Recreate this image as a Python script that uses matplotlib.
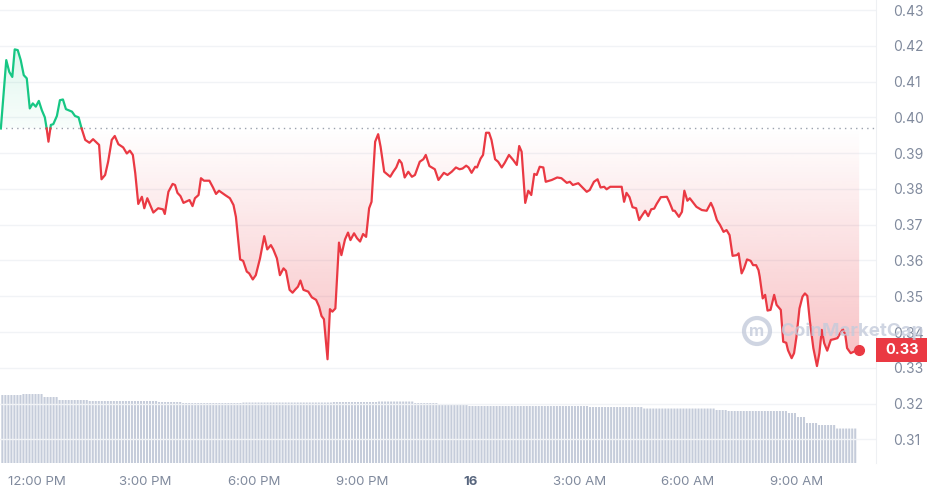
import matplotlib as mpl
import matplotlib.pyplot as plt
from matplotlib.patches import Circle, Rectangle
from matplotlib.path import Path
import numpy as np

mpl.rcParams['font.family'] = ['Inter', 'DejaVu Sans']

# minutes after 11:00 AM (15th) and price in USD
minutes = [0, 9, 14, 19, 23, 28, 33, 38, 43, 48, 53, 58, 63, 68, 73, 76, 79, 83, 87, 93,
           98, 103, 108, 118, 123, 129, 134, 140, 147, 153, 163, 167, 173, 178, 184, 189, 195, 203, 209, 214,
           219, 223, 228, 234, 238, 243, 253, 261, 269, 272, 278, 285, 289, 293, 298, 303, 313, 318, 322, 328,
           332, 337, 346, 352, 357, 362, 372, 380, 386, 390, 397, 402, 408, 412, 418, 423, 430, 437, 442, 448,
           452, 458, 463, 469, 473, 479, 484, 488, 493, 497, 502, 510, 516, 523, 528, 532, 536, 542, 546, 550,
           555, 561, 565, 571, 576, 580, 586, 591, 596, 601, 606, 611, 615, 621, 626, 630, 636, 646, 651, 656,
           661, 665, 670, 676, 682, 687, 695, 701, 705, 711, 720, 726, 735, 741, 748, 755, 761, 766, 772, 776,
           781, 787, 790, 796, 800, 805, 810, 814, 820, 825, 831, 836, 843, 850, 856, 860, 864, 870, 875, 880,
           885, 889, 894, 900, 904, 914, 923, 930, 939, 944, 949, 958, 965, 972, 977, 984, 990, 995, 1001, 1005,
           1011, 1019, 1030, 1034, 1038, 1043, 1048, 1054, 1059, 1063, 1069, 1074, 1079, 1084, 1088, 1095, 1105, 1109, 1115, 1118,
           1125, 1130, 1134, 1139, 1143, 1149, 1154, 1163, 1171, 1178, 1182, 1188, 1193, 1199, 1204, 1209, 1214, 1221, 1224, 1229,
           1233, 1238, 1244, 1248, 1253, 1257, 1259, 1264, 1268, 1272, 1277, 1283, 1287, 1294, 1298, 1303, 1306, 1312, 1316, 1320,
           1325, 1330, 1334, 1338, 1342, 1348, 1354, 1358, 1362, 1366, 1371, 1377, 1382, 1388, 1392, 1397, 1401, 1404, 1410, 1415,
           1420, 1424]
price = [0.3969, 0.4160, 0.4127, 0.4113, 0.4190, 0.4188, 0.4160, 0.4118, 0.4109, 0.4025, 0.4039, 0.4030, 0.4046, 0.4020, 0.4000, 0.3969, 0.3932, 0.3979, 0.3981, 0.4004,
         0.4048, 0.4050, 0.4023, 0.4016, 0.4004, 0.4000, 0.3969, 0.3937, 0.3929, 0.3939, 0.3923, 0.3827, 0.3839, 0.3876, 0.3937, 0.3948, 0.3925, 0.3916, 0.3899, 0.3907,
         0.3895, 0.3844, 0.3758, 0.3778, 0.3746, 0.3774, 0.3734, 0.3746, 0.3743, 0.3730, 0.3792, 0.3814, 0.3811, 0.3789, 0.3780, 0.3761, 0.3769, 0.3752, 0.3774, 0.3783,
         0.3830, 0.3823, 0.3823, 0.3804, 0.3786, 0.3795, 0.3783, 0.3774, 0.3755, 0.3722, 0.3603, 0.3599, 0.3569, 0.3564, 0.3547, 0.3559, 0.3606, 0.3668, 0.3631, 0.3643,
         0.3631, 0.3606, 0.3559, 0.3578, 0.3571, 0.3518, 0.3510, 0.3518, 0.3527, 0.3544, 0.3518, 0.3513, 0.3497, 0.3490, 0.3471, 0.3445, 0.3436, 0.3324, 0.3464, 0.3457,
         0.3466, 0.3650, 0.3615, 0.3659, 0.3678, 0.3657, 0.3676, 0.3662, 0.3653, 0.3674, 0.3666, 0.3746, 0.3764, 0.3932, 0.3953, 0.3918, 0.3848, 0.3834, 0.3848, 0.3860,
         0.3881, 0.3872, 0.3832, 0.3848, 0.3834, 0.3839, 0.3876, 0.3883, 0.3895, 0.3864, 0.3855, 0.3825, 0.3845, 0.3839, 0.3848, 0.3860, 0.3855, 0.3857, 0.3865, 0.3860,
         0.3845, 0.3862, 0.3860, 0.3885, 0.3895, 0.3957, 0.3957, 0.3937, 0.3883, 0.3876, 0.3860, 0.3873, 0.3895, 0.3881, 0.3867, 0.3920, 0.3904, 0.3761, 0.3795, 0.3783,
         0.3842, 0.3839, 0.3862, 0.3860, 0.3820, 0.3825, 0.3832, 0.3830, 0.3817, 0.3820, 0.3811, 0.3816, 0.3804, 0.3792, 0.3797, 0.3820, 0.3827, 0.3804, 0.3806, 0.3799,
         0.3806, 0.3806, 0.3806, 0.3764, 0.3789, 0.3777, 0.3749, 0.3746, 0.3713, 0.3724, 0.3739, 0.3724, 0.3743, 0.3745, 0.3758, 0.3777, 0.3778, 0.3764, 0.3739, 0.3739,
         0.3722, 0.3736, 0.3795, 0.3767, 0.3774, 0.3761, 0.3750, 0.3741, 0.3739, 0.3761, 0.3746, 0.3713, 0.3700, 0.3680, 0.3685, 0.3671, 0.3613, 0.3615, 0.3620, 0.3564,
         0.3578, 0.3603, 0.3599, 0.3587, 0.3587, 0.3573, 0.3555, 0.3494, 0.3504, 0.3460, 0.3462, 0.3504, 0.3476, 0.3462, 0.3373, 0.3370, 0.3349, 0.3327, 0.3341, 0.3387,
         0.3466, 0.3499, 0.3508, 0.3501, 0.3434, 0.3355, 0.3305, 0.3341, 0.3406, 0.3369, 0.3348, 0.3378, 0.3380, 0.3383, 0.3395, 0.3408, 0.3392, 0.3355, 0.3341, 0.3345,
         0.3349, 0.3349]
base_price = 0.3969

# 5-minute volume bars, read as step levels (millions USD)
vol_levels = [6.8, 6.9, 6.6, 6.3, 6.2, 6.1, 6.0, 6.05, 6.1, 6.15, 6.0, 5.9, 5.7, 5.6, 5.45, 5.3, 5.2, 5.0, 4.6, 4.0, 3.8, 3.45]
vol_counts = [7, 7, 5, 10, 23, 8, 20, 30, 15, 12, 8, 10, 40, 18, 24, 4, 20, 3, 3, 4, 6, 7]

tick_pos = [60, 240, 420, 600, 780, 960, 1140, 1320]
tick_lbl = ['12:00 PM', '3:00 PM', '6:00 PM', '9:00 PM', '16', '3:00 AM', '6:00 AM', '9:00 AM']
y_ticks = [0.31, 0.32, 0.33, 0.34, 0.35, 0.36, 0.37, 0.38, 0.39, 0.40, 0.41, 0.42, 0.43]

GREEN = '#16c784'
RED = '#ea3943'
GREY = '#808a9d'

t = np.array(minutes, dtype=float)
p = np.array(price)

# add crossing points so the colour switch happens on the baseline
tt, pp = [t[0]], [p[0]]
for i in range(1, len(t)):
    a, b = p[i-1] - base_price, p[i] - base_price
    if a * b < 0:
        tc = t[i-1] + (t[i] - t[i-1]) * a / (a - b)
        tt.append(tc); pp.append(base_price)
    tt.append(t[i]); pp.append(p[i])
tt, pp = np.array(tt), np.array(pp)

fig = plt.figure(figsize=(9.28, 4.95), dpi=100)
pos = [0, 0.0646, 0.944, 0.9354]
xlim = (-1.4, 1452)
ylim = (0.3034, 0.4328)

# volume underneath
axv = fig.add_axes(pos)
vol = np.repeat(vol_levels, vol_counts)
vt = np.arange(len(vol)) * 5 + 2.5
bars = axv.bar(vt, vol, width=3.4, color='#c5ccda', linewidth=0)
for b in bars:
    b.set_snap(False)
axv.set_xlim(xlim)
axv.set_ylim(0, 46.3)
axv.axis('off')

ax = fig.add_axes(pos)
ax.set_facecolor('none')
ax.set_xlim(xlim)
ax.set_ylim(ylim)

for yv in y_ticks:
    ax.axhline(yv, color='#f1f3f6', lw=1, zorder=0)

# gradient fills clipped to the area between line and baseline
def grad_fill(where, y0, y1, rgb, a0, a1):
    poly = ax.fill_between(tt, pp, base_price, where=where, color='none', lw=0)
    n = 256
    img = np.zeros((n, 1, 4))
    img[..., :3] = mpl.colors.to_rgb(rgb)
    img[..., 3] = np.linspace(a0, a1, n).reshape(n, 1)
    im = ax.imshow(img, extent=[xlim[0], xlim[1], y0, y1], origin='lower',
                   aspect='auto', zorder=1, interpolation='bilinear')
    im.set_clip_path(Path.make_compound_path(*poly.get_paths()), transform=ax.transData)

grad_fill(pp <= base_price, 0.330, base_price, RED, 0.32, 0.0)
grad_fill(pp >= base_price, base_price, 0.420, GREEN, 0.03, 0.14)

ax.axhline(base_price, color='#9aa1ad', lw=1, ls=(0, (1, 3)), zorder=2)

ax.plot(tt, np.where(pp >= base_price, pp, np.nan), color=GREEN, lw=1.6, zorder=3,
        solid_joinstyle='round')
ax.plot(tt, np.where(pp <= base_price, pp, np.nan), color=RED, lw=1.6, zorder=3,
        solid_joinstyle='round')
ax.plot(t[-1], p[-1], 'o', color=RED, ms=7, zorder=4)

ax.yaxis.tick_right()
ax.set_yticks(y_ticks)
ax.set_yticklabels(['%.2f' % v for v in y_ticks])
ax.tick_params(axis='y', length=0, pad=12, labelsize=10, labelcolor=GREY)
ax.set_xticks(tick_pos)
ax.set_xticklabels(tick_lbl)
ax.tick_params(axis='x', length=0, pad=9, labelsize=9.5, labelcolor=GREY)
for lab in ax.get_xticklabels():
    if lab.get_text() == '16':
        lab.set_fontweight('bold')
        lab.set_color('#58667e')
for s in ['top', 'left', 'bottom']:
    ax.spines[s].set_visible(False)
ax.spines['right'].set_color('#eef0f3')

# current price tag
ytag = ax.transData.transform((0, p[-1]))[1] / fig.dpi
fig.patches.append(Rectangle((8.76, ytag - 0.12), 0.52, 0.24, transform=fig.dpi_scale_trans,
                             fc=RED, ec='none', zorder=5))
fig.text(9.02, ytag, '%.2f' % p[-1], transform=fig.dpi_scale_trans, ha='center', va='center',
         color='white', fontsize=10.5, fontweight='bold', zorder=6)

# watermark
fig.patches.append(Circle((7.57, 4.95 - 3.31), 0.13, transform=fig.dpi_scale_trans,
                          fill=False, ec='#c4cbdb', lw=3, alpha=0.8, zorder=10))
fig.text(7.57, 4.95 - 3.31, 'm', transform=fig.dpi_scale_trans, fontsize=12, fontweight='bold',
         color='#c4cbdb', alpha=0.8, ha='center', va='center', zorder=10)
fig.text(7.8, 4.95 - 3.31, 'CoinMarketCap', transform=fig.dpi_scale_trans, fontsize=13.5,
         fontweight='bold', color='#c4cbdb', alpha=0.8, va='center', ha='left', zorder=10)

fig.savefig('out.png', dpi=100)
